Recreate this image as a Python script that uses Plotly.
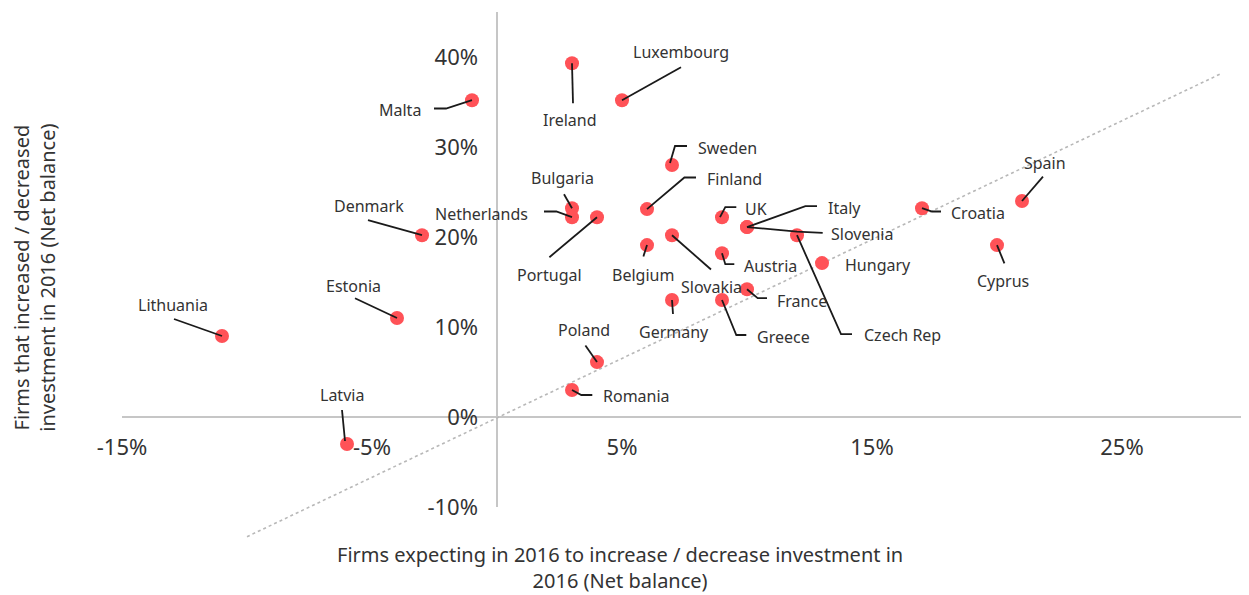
import plotly.graph_objects as go

# ---------------- data ----------------
countries = ["Lithuania", "Latvia", "Estonia", "Denmark", "Malta", "Ireland", "Luxembourg",
             "Bulgaria", "Netherlands", "Portugal", "Poland", "Romania", "Finland", "Belgium",
             "Sweden", "Slovakia", "Germany", "UK", "Austria", "Greece", "Italy", "Slovenia",
             "France", "Czech Rep", "Hungary", "Croatia", "Cyprus", "Spain"]
expected_2016 = [-11, -6, -4, -3, -1, 3, 5,
                 3, 3, 4, 4, 3, 6, 6,
                 7, 7, 7, 9, 9, 9, 10, 10,
                 10, 12, 13, 17, 20, 21]
realised_2016 = [9.0, -3.0, 11.0, 20.2, 35.2, 39.3, 35.2,
                 23.2, 22.2, 22.2, 6.1, 3.0, 23.1, 19.1,
                 28.0, 20.2, 13.0, 22.2, 18.2, 13.0, 21.1, 21.1,
                 14.2, 20.2, 17.1, 23.2, 19.1, 24.0]
trend_x = [-10, 29]
trend_y = [-13.3, 38.2]
x_ticks = [-15, -5, 5, 15, 25]
x_tick_labels = ["-15%", "-5%", "5%", "15%", "25%"]
y_ticks = [-10, 0, 10, 20, 30, 40]
y_tick_labels = ["-10%", "0%", "10%", "20%", "30%", "40%"]

# ---------------- label placement (pixel offsets from each point, screen y down) ----------------
label_pos = {
    "Lithuania": ((-49, -31), [(-48, -17), (0, 0)]),
    "Estonia": ((-44, -32.5), [(-42, -19.7), (0, 0)]),
    "Latvia": ((-5, -49), [(-5, -34), (-2, -3)]),
    "Denmark": ((-53, -29), [(-54, -15), (0, 0)]),
    "Malta": ((-72, 9.5), [(-38, 8.3), (-26, 8.3), (0, 0)]),
    "Ireland": ((-2, 57), [(0, 0), (1, 40)]),
    "Luxembourg": ((59, -48.5), [(59, -33), (0, 0)]),
    "Sweden": ((55, -17), [(15, -19), (3, -19), (-2, -2)]),
    "Finland": ((87, -30), [(49, -31.6), (37.4, -31.6), (0, 0)]),
    "Bulgaria": ((-10, -30), [(-8, -14), (0, 0)]),
    "Netherlands": ((-90.5, -3), [(-28, -5.7), (-15.7, -5.7), (0, 0)]),
    "Portugal": ((-48, 57.5), [(-47.6, 40), (0, 0)]),
    "Belgium": ((-4, 30), [(-3.6, 11.3), (0, 0)]),
    "Slovakia": ((39, 52), [(39, 34.3), (0, 0)]),
    "Germany": ((1.5, 32), [(0, 0), (1, 14)]),
    "Greece": ((61, 36.6), [(24.3, 35), (14.3, 35), (0, 0)]),
    "UK": ((34, -8.3), [(14.3, -10), (3.3, -10), (-2, 0)]),
    "Austria": ((48, 12.6), [(12.3, 11), (3.3, 11), (0, 0)]),
    "Italy": ((97.5, -19), [(70, -21), (58.4, -21), (0, 0)]),
    "Slovenia": ((115, 6.7), [(75.7, 5.7), (50, 4.5), (0, 0)]),
    "France": ((54.5, 11.5), [(20, 9), (10.7, 9), (0, 0)]),
    "Hungary": ((56, 2), None),
    "Czech Rep": ((105, 100), [(55, 99), (44, 99), (0, 0)]),
    "Croatia": ((55.5, 4.3), [(19, 3.3), (10, 3.3), (0, 0)]),
    "Spain": ((22.7, -38.3), [(21, -24.3), (0, 0)]),
    "Cyprus": ((6, 36.3), [(7.4, 18.3), (0, 0)]),
    "Poland": ((-12.6, -32), [(-11.6, -16.7), (0, 0)]),
    "Romania": ((64, 6), [(20.3, 5), (9.3, 5), (0, 0)]),
}

FONT = "Noto Sans"
TXT = "#333333"
AXIS_COL = "#c6c6c6"

fig = go.Figure()

fig.add_trace(go.Scatter(
    x=trend_x, y=trend_y, mode="lines",
    line=dict(color="#b8b8b8", width=1.6, dash="dot"),
    hoverinfo="skip", showlegend=False))

fig.add_trace(go.Scatter(
    x=expected_2016, y=realised_2016, mode="markers", text=countries,
    marker=dict(color="#ff5257", size=14, line=dict(width=0)),
    showlegend=False, cliponaxis=False))

shapes = [
    dict(type="line", xref="x", yref="y", x0=-15, x1=30, y0=0, y1=0,
         line=dict(color=AXIS_COL, width=2), layer="below"),
    dict(type="line", xref="x", yref="y", x0=0, x1=0, y0=-10, y1=45,
         line=dict(color=AXIS_COL, width=2), layer="below"),
]
annotations = []
for name, xv, yv in zip(countries, expected_2016, realised_2016):
    (dx, dy), leader = label_pos[name]
    annotations.append(dict(
        x=xv, y=yv, xref="x", yref="y", text=name, showarrow=False,
        xshift=dx, yshift=-dy, xanchor="center", yanchor="middle",
        font=dict(family=FONT, size=16, color=TXT)))
    if leader:
        path = "M " + " L ".join(f"{px},{-py}" for px, py in leader)
        shapes.append(dict(
            type="path", xref="x", yref="y", xsizemode="pixel", ysizemode="pixel",
            xanchor=xv, yanchor=yv, path=path,
            line=dict(color="#1a1a1a", width=1.8), layer="above"))

annotations.append(dict(
    x=0.4427, y=-0.046, xref="paper", yref="paper", showarrow=False,
    text="Firms expecting in 2016 to increase / decrease investment in<br>2016 (Net balance)",
    xanchor="center", yanchor="middle", align="center",
    font=dict(family=FONT, size=20, color=TXT)))
annotations.append(dict(
    x=-0.078, y=0.5, xref="paper", yref="paper", showarrow=False, textangle=-90,
    text="Firms that increased / decreased<br>investment in 2016 (Net balance)",
    xanchor="center", yanchor="middle", align="center",
    font=dict(family=FONT, size=20, color=TXT)))

# page has an 8px body margin, so the figure is sized/offset to compensate
fig.update_layout(
    width=1241, height=587,
    margin=dict(l=114, r=2, t=4, b=52, autoexpand=False),
    paper_bgcolor="white", plot_bgcolor="white",
    font=dict(family=FONT, color=TXT),
    xaxis=dict(range=[-15, 30], showgrid=False, zeroline=False, showline=False,
               tickvals=x_ticks, ticktext=x_tick_labels, ticks="", automargin=False,
               anchor="free", position=(535 - 426) / 523,
               tickfont=dict(family=FONT, size=22, color=TXT)),
    yaxis=dict(range=[-14, 45], showgrid=False, zeroline=False, showline=False,
               tickvals=y_ticks, ticktext=y_tick_labels, ticks="", automargin=False,
               anchor="free", position=1 / 3, ticklabelstandoff=19,
               tickfont=dict(family=FONT, size=22, color=TXT)),
    shapes=shapes, annotations=annotations, showlegend=False,
)

fig.write_html("out.html")
